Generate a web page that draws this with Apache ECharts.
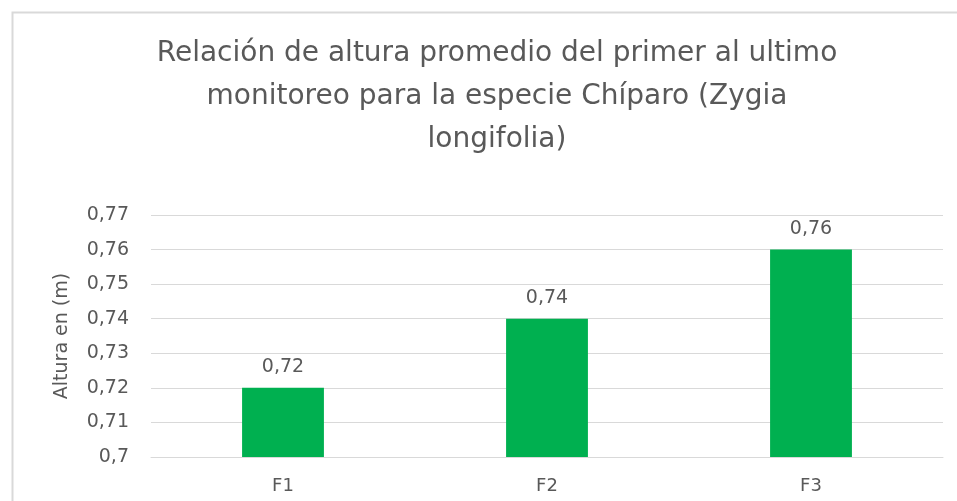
<!DOCTYPE html>
<html>
<head>
<meta charset="utf-8">
<script src="https://cdn.jsdelivr.net/npm/echarts@6/dist/echarts.min.js"></script>
<style>
  html, body { margin: 0; padding: 0; background: #ffffff; }
  #chart { width: 957px; height: 501px; }
</style>
</head>
<body>
<div id="chart"></div>
<script>
// Altura promedio por monitoreo (m)
const categories = ['F1', 'F2', 'F3'];
const alturas = [0.72, 0.74, 0.76];
const yMin = 0.70;
const yMax = 0.77;
const yStep = 0.01;

const tituloLineas = [
  'Relación de altura promedio del primer al ultimo',
  'monitoreo para la especie Chíparo (Zygia',
  'longifolia)'
];

const fmt = v => String(Math.round(v * 100) / 100).replace('.', ',');
const fontFam = '"DejaVu Sans", "Noto Sans", sans-serif';

const chart = echarts.init(document.getElementById('chart'), null, { renderer: 'canvas' });
chart.setOption({
  backgroundColor: '#ffffff',
  animation: false,
  graphic: [{
    type: 'rect',
    shape: { x: 12.5, y: 12.5, width: 1000, height: 600 },
    style: { fill: 'none', stroke: '#d9d9d9', lineWidth: 2 },
    silent: true
  }],
  title: {
    text: tituloLineas.join('\n'),
    left: 492,
    top: 27,
    textAlign: 'center',
    textStyle: {
      fontFamily: fontFam,
      fontSize: 28,
      fontWeight: 'normal',
      color: '#595959',
      lineHeight: 43
    }
  },
  grid: { left: 151, right: 14, top: 215, bottom: 44 },
  xAxis: {
    type: 'category',
    data: categories,
    axisLine: { show: true, lineStyle: { color: '#d9d9d9', width: 1 } },
    axisTick: { show: false },
    axisLabel: { color: '#595959', fontSize: 18, fontFamily: fontFam, margin: 20 }
  },
  yAxis: {
    type: 'value',
    min: yMin,
    max: yMax,
    interval: yStep,
    name: 'Altura en (m)',
    nameLocation: 'middle',
    nameRotate: 90,
    nameGap: 79,
    nameTextStyle: { color: '#595959', fontSize: 19, fontFamily: fontFam },
    axisLine: { show: false },
    axisTick: { show: false },
    splitLine: { lineStyle: { color: '#d9d9d9', width: 1 } },
    axisLabel: {
      color: '#595959',
      fontSize: 19,
      fontFamily: fontFam,
      margin: 22,
      formatter: fmt
    }
  },
  series: [{
    type: 'bar',
    data: alturas,
    barWidth: '31%',
    itemStyle: { color: '#00b050' },
    label: {
      show: true,
      position: 'top',
      distance: 11,
      color: '#595959',
      fontSize: 19,
      fontFamily: fontFam,
      formatter: p => fmt(p.value)
    }
  }]
});
</script>
</body>
</html>
